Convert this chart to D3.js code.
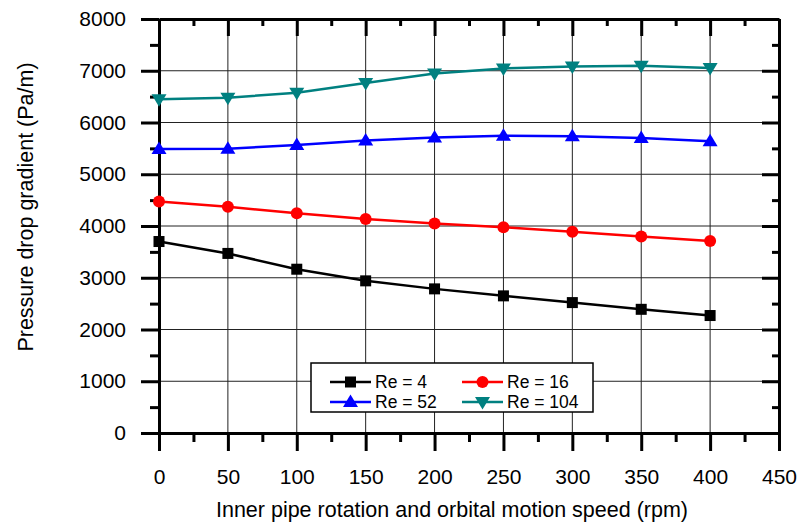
<!DOCTYPE html>
<html>
<head>
<meta charset="utf-8">
<script src="https://cdn.jsdelivr.net/npm/d3@7"></script>
<style>
  body { margin: 0; background: #fff; }
  svg { font-family: "Liberation Sans", Arial, sans-serif; }
</style>
</head>
<body>
<svg width="800" height="527"></svg>
<script>
const speeds = [0, 50, 100, 150, 200, 250, 300, 350, 400];
const re4 = [3700, 3470, 3165, 2940, 2785, 2650, 2520, 2390, 2270];
const re16 = [4475, 4370, 4245, 4135, 4050, 3975, 3890, 3795, 3710];
const re52 = [5490, 5495, 5565, 5650, 5710, 5745, 5735, 5700, 5640];
const re104 = [6450, 6480, 6575, 6765, 6945, 7045, 7080, 7095, 7055];
const xTicks = [0, 50, 100, 150, 200, 250, 300, 350, 400, 450];
const yTicks = [0, 1000, 2000, 3000, 4000, 5000, 6000, 7000, 8000];

const series = [
  { name: "Re = 4", values: re4, color: "#000000", shape: "square" },
  { name: "Re = 16", values: re16, color: "#ff0000", shape: "circle" },
  { name: "Re = 52", values: re52, color: "#0000ff", shape: "up" },
  { name: "Re = 104", values: re104, color: "#008080", shape: "down" }
];

const svg = d3.select("svg");
const plotL = 159, plotR = 779, plotT = 19, plotB = 433;

const x = d3.scaleLinear().domain([0, 450]).range([plotL, plotR]);
const y = d3.scaleLinear().domain([0, 8000]).range([plotB, plotT]);

const minorX = d3.range(25, 450, 50);
const minorY = d3.range(500, 8000, 1000);

// grid
svg.append("g")
  .selectAll("line")
  .data(xTicks.slice(1, -1))
  .join("line")
  .attr("x1", d => x(d)).attr("x2", d => x(d))
  .attr("y1", plotT).attr("y2", plotB)
  .attr("stroke", "#222").attr("stroke-width", 1);
svg.append("g")
  .selectAll("line")
  .data(yTicks.slice(1, -1))
  .join("line")
  .attr("x1", plotL).attr("x2", plotR)
  .attr("y1", d => y(d)).attr("y2", d => y(d))
  .attr("stroke", "#222").attr("stroke-width", 1);

function styleAxis(g) {
  g.select(".domain").attr("stroke", "#000").attr("stroke-width", 3);
  g.selectAll(".tick line").attr("stroke", "#000").attr("stroke-width", 3);
  g.selectAll(".tick text").attr("fill", "#000").style("font-size", "21px");
}

// bottom axis
svg.append("g").attr("transform", `translate(0,${plotB})`)
  .call(d3.axisBottom(x).tickValues(xTicks).tickSize(18).tickSizeOuter(0).tickPadding(18))
  .call(styleAxis);
svg.append("g").attr("transform", `translate(0,${plotB})`)
  .call(d3.axisBottom(x).tickValues(minorX).tickSize(9).tickFormat(""))
  .call(styleAxis).call(g => g.select(".domain").remove());

// top axis
svg.append("g").attr("transform", `translate(0,${plotT})`)
  .call(d3.axisBottom(x).tickValues(xTicks).tickSize(17).tickSizeOuter(0).tickFormat(""))
  .call(styleAxis);
svg.append("g").attr("transform", `translate(0,${plotT})`)
  .call(d3.axisBottom(x).tickValues(minorX).tickSize(7).tickFormat(""))
  .call(styleAxis).call(g => g.select(".domain").remove());

// left axis
svg.append("g").attr("transform", `translate(${plotL},0)`)
  .call(d3.axisLeft(y).tickValues(yTicks).tickSize(18).tickSizeOuter(0).tickPadding(15).tickFormat(d3.format("d")))
  .call(styleAxis);
svg.append("g").attr("transform", `translate(${plotL},0)`)
  .call(d3.axisLeft(y).tickValues(minorY).tickSize(9).tickFormat(""))
  .call(styleAxis).call(g => g.select(".domain").remove());

// right axis
svg.append("g").attr("transform", `translate(${plotR},0)`)
  .call(d3.axisLeft(y).tickValues(yTicks).tickSize(17).tickSizeOuter(0).tickFormat(""))
  .call(styleAxis);
svg.append("g").attr("transform", `translate(${plotR},0)`)
  .call(d3.axisLeft(y).tickValues(minorY).tickSize(7).tickFormat(""))
  .call(styleAxis).call(g => g.select(".domain").remove());

// axis titles
svg.append("text")
  .attr("x", 452).attr("y", 517)
  .attr("text-anchor", "middle")
  .style("font-size", "21.5px")
  .text("Inner pipe rotation and orbital motion speed (rpm)");
svg.append("text")
  .attr("transform", "translate(33,207) rotate(-90)")
  .attr("text-anchor", "middle")
  .style("font-size", "21.5px")
  .text("Pressure drop gradient (Pa/m)");

// markers
function marker(g, shape, color) {
  if (shape === "square") {
    g.append("rect").attr("x", -5.5).attr("y", -5.5).attr("width", 11).attr("height", 11).attr("fill", color);
  } else if (shape === "circle") {
    g.append("circle").attr("r", 6).attr("fill", color);
  } else if (shape === "up") {
    g.append("path").attr("d", "M0,-7.5L7.5,5L-7.5,5Z").attr("fill", color);
  } else {
    g.append("path").attr("d", "M0,7.5L7.5,-5L-7.5,-5Z").attr("fill", color);
  }
}

const line = d3.line().x((d, i) => x(speeds[i])).y(d => y(d));

series.forEach(s => {
  svg.append("path")
    .attr("d", line(s.values))
    .attr("fill", "none")
    .attr("stroke", s.color)
    .attr("stroke-width", 2.5);
  s.values.forEach((v, i) => {
    const g = svg.append("g").attr("transform", `translate(${x(speeds[i])},${y(v)})`);
    marker(g, s.shape, s.color);
  });
});

// legend
const legend = svg.append("g");
legend.append("rect")
  .attr("x", 311).attr("y", 363).attr("width", 282).attr("height", 49)
  .attr("fill", "#fff").attr("stroke", "#000").attr("stroke-width", 1.5);

const legendPos = [[330, 382], [462, 382], [330, 402], [462, 402]];
series.forEach((s, i) => {
  const [lx, ly] = legendPos[i];
  const g = legend.append("g");
  g.append("line")
    .attr("x1", lx).attr("x2", lx + 41)
    .attr("y1", ly).attr("y2", ly)
    .attr("stroke", s.color).attr("stroke-width", 2.5);
  const m = g.append("g").attr("transform", `translate(${lx + 20.5},${ly})`);
  marker(m, s.shape, s.color);
  g.append("text")
    .attr("x", lx + 45).attr("y", ly + 6)
    .style("font-size", "17.5px")
    .text(s.name);
});
</script>
</body>
</html>
